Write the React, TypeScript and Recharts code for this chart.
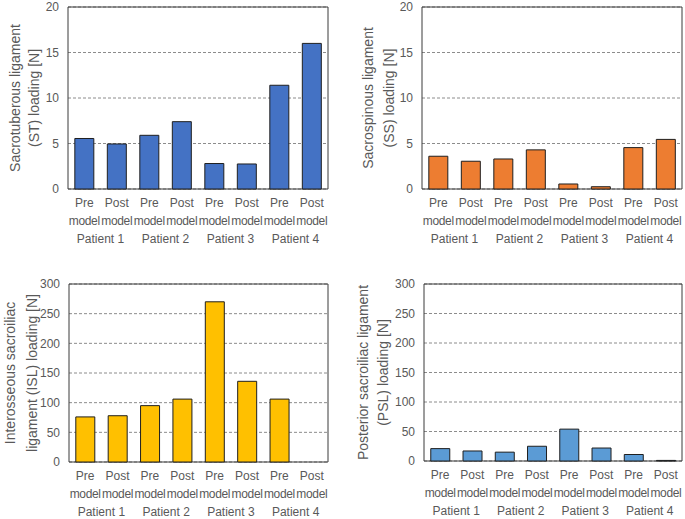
import React from 'react';
import { BarChart, Bar, XAxis, YAxis, CartesianGrid } from 'recharts';

const patients = ['Patient 1', 'Patient 2', 'Patient 3', 'Patient 4'];
const phases = ['Pre', 'Post'];
const phaseSubLabel = 'model';

const stLoading = [5.55, 4.95, 5.9, 7.4, 2.8, 2.75, 11.4, 16.0];
const ssLoading = [3.6, 3.05, 3.3, 4.3, 0.55, 0.25, 4.55, 5.45];
const islLoading = [76, 78, 95, 106, 270, 136, 106, 0];
const pslLoading = [21, 17, 15, 25, 54, 22, 11, 1];

const smallTicks = [0, 5, 10, 15, 20];
const largeTicks = [0, 50, 100, 150, 200, 250, 300];

const categories = patients.flatMap((p) => phases.map((ph) => ({ id: `${p}|${ph}`, patient: p, phase: ph })));
const buildData = (values: number[]) => categories.map((c, i) => ({ ...c, value: values[i] }));

const FONT = "'Liberation Sans', Arial, Helvetica, sans-serif";
const TEXT = '#595959';

const PhaseTick = (props: any) => {
  const { x, y, payload } = props;
  const phase = String(payload.value).split('|')[1];
  return (
    <g>
      <text x={x} y={y} dy={18} textAnchor="middle" fill={TEXT} fontSize={12} fontFamily={FONT}>{phase}</text>
      <text x={x} y={y} dy={35.5} textAnchor="middle" fill={TEXT} fontSize={12} letterSpacing={-0.35} fontFamily={FONT}>{phaseSubLabel}</text>
    </g>
  );
};

const PatientTick = (props: any) => {
  const { x, y, payload } = props;
  return (
    <text x={x} y={y} dy={15.5} textAnchor="middle" fill={TEXT} fontSize={12} fontFamily={FONT}>{payload.value}</text>
  );
};

const AxisTitle = ({ viewBox, lines, xs }: any) => {
  const cy = viewBox.y + viewBox.height / 2;
  return (
    <g>
      {lines.map((l: string, i: number) => {
        const cx = viewBox.x + xs[i];
        return (
          <text key={i} x={cx} y={cy} transform={`rotate(-90 ${cx} ${cy})`} textAnchor="middle" dominantBaseline="central" fill={TEXT} fontSize={14} fontFamily={FONT}>{l}</text>
        );
      })}
    </g>
  );
};

type PanelProps = {
  left: number; top: number; width: number; height: number;
  margin: any; yWidth: number; values: number[]; color: string;
  ticks: number[]; titleLines: string[]; titleXs: number[];
};

const Panel = ({ left, top, width, height, margin, yWidth, values, color, ticks, titleLines, titleXs }: PanelProps) => {
  const data = buildData(values);
  return (
    <div style={{ position: 'absolute', left, top, width, height }}>
      <BarChart width={width} height={height} data={data} margin={margin} barCategoryGap="21%">
        <CartesianGrid vertical={false} stroke="#8c8c8c" strokeDasharray="3 2" />
        <CartesianGrid
          stroke="#3a3a3a"
          fill="none"
          horizontalCoordinatesGenerator={({ offset }: any) => [offset.top, offset.top + offset.height]}
          verticalCoordinatesGenerator={({ offset }: any) => [offset.left, offset.left + offset.width]}
        />
        <XAxis xAxisId={0} dataKey="id" axisLine={false} tickLine={false} tickSize={0} tickMargin={0} interval={0} height={38} tick={<PhaseTick />} />
        <XAxis xAxisId="patient" dataKey="patient" allowDuplicatedCategory={false} axisLine={false} tickLine={false} tickSize={0} tickMargin={0} interval={0} height={18} tick={<PatientTick />} />
        <YAxis
          type="number"
          domain={[ticks[0], ticks[ticks.length - 1]]}
          ticks={ticks}
          interval={0}
          width={yWidth}
          axisLine={false}
          tickLine={false}
          tickSize={0}
          tickMargin={9}
          tick={{ fill: TEXT, fontSize: 12, fontFamily: FONT }}
          label={{ content: (p: any) => <AxisTitle {...p} lines={titleLines} xs={titleXs} /> }}
        />
        <Bar dataKey="value" xAxisId={0} fill={color} stroke="#1f1f1f" strokeWidth={1} isAnimationActive={false} />
      </BarChart>
    </div>
  );
};

export default function App() {
  return (
    <div style={{ position: 'absolute', left: 0, top: 0, width: 685, height: 519, background: '#fff' }}>
      <Panel left={0} top={0} width={340} height={260} margin={{ top: 7, right: 12, bottom: 15, left: 0 }} yWidth={68}
        values={stLoading} color="#4472C4" ticks={smallTicks}
        titleLines={['Sacrotuberous ligament', '(ST) loading [N]']} titleXs={[15, 34]} />
      <Panel left={340} top={0} width={345} height={260} margin={{ top: 7, right: 3, bottom: 15, left: 0 }} yWidth={82}
        values={ssLoading} color="#ED7D31" ticks={smallTicks}
        titleLines={['Sacrospinous ligament', '(SS) loading [N]']} titleXs={[28, 49]} />
      <Panel left={0} top={260} width={340} height={259} margin={{ top: 24, right: 12, bottom: 1, left: 0 }} yWidth={69}
        values={islLoading} color="#FFC000" ticks={largeTicks}
        titleLines={['Interosseous sacroiliac', 'ligament (ISL) loading [N]']} titleXs={[10, 32]} />
      <Panel left={340} top={260} width={345} height={259} margin={{ top: 24, right: 3, bottom: 2, left: 0 }} yWidth={84}
        values={pslLoading} color="#5B9BD5" ticks={largeTicks}
        titleLines={['Posterior sacroiliac ligament', '(PSL) loading [N]']} titleXs={[23, 43]} />
    </div>
  );
}
